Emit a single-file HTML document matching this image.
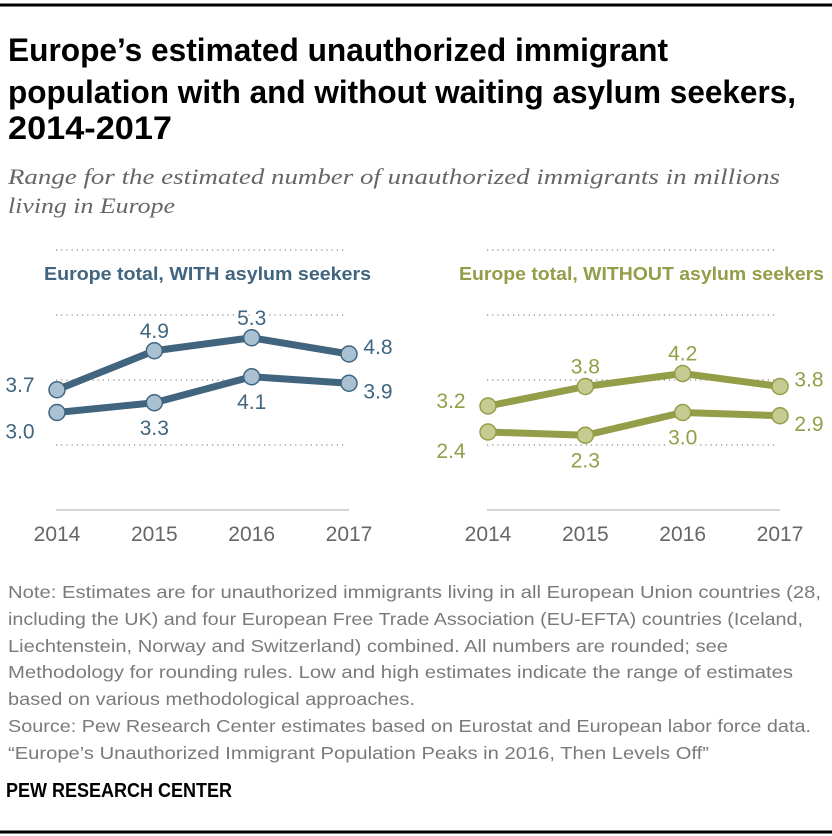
<!DOCTYPE html>
<html><head><meta charset="utf-8"><style>
html,body{margin:0;padding:0;background:#fff;}
svg{display:block;}
</style></head><body>
<svg id="chart" width="832" height="836" viewBox="0 0 832 836" xmlns="http://www.w3.org/2000/svg">
<line x1="0" y1="5" x2="832" y2="5" stroke="#000" stroke-width="3"/>
<g font-family="'Liberation Sans Narrow','Liberation Sans',sans-serif" font-weight="bold" font-size="32" fill="#000">
<text x="8" y="61" textLength="660" lengthAdjust="spacingAndGlyphs">Europe’s estimated unauthorized immigrant</text>
<text x="8" y="103" textLength="788" lengthAdjust="spacingAndGlyphs">population with and without waiting asylum seekers,</text>
<text x="8" y="139" textLength="164" lengthAdjust="spacingAndGlyphs">2014-2017</text>
</g>
<g font-family="'Liberation Serif',serif" font-style="italic" font-size="22" fill="#666">
<text x="8" y="184" textLength="772" lengthAdjust="spacingAndGlyphs">Range for the estimated number of unauthorized immigrants in millions</text>
<text x="8" y="213" textLength="167" lengthAdjust="spacingAndGlyphs">living in Europe</text>
</g>
<g id="plots"></g>
<g font-family="'Liberation Sans',sans-serif" font-size="17.5" fill="#7a7a7a">
<text x="8" y="598" textLength="813" lengthAdjust="spacingAndGlyphs">Note: Estimates are for unauthorized immigrants living in all European Union countries (28,</text>
<text x="8" y="625" textLength="795" lengthAdjust="spacingAndGlyphs">including the UK) and four European Free Trade Association (EU-EFTA) countries (Iceland,</text>
<text x="8" y="652" textLength="720" lengthAdjust="spacingAndGlyphs">Liechtenstein, Norway and Switzerland) combined. All numbers are rounded; see</text>
<text x="8" y="678" textLength="785" lengthAdjust="spacingAndGlyphs">Methodology for rounding rules. Low and high estimates indicate the range of estimates</text>
<text x="8" y="705" textLength="407" lengthAdjust="spacingAndGlyphs">based on various methodological approaches.</text>
<text x="8" y="732" textLength="803" lengthAdjust="spacingAndGlyphs">Source: Pew Research Center estimates based on Eurostat and European labor force data.</text>
<text x="8" y="759" textLength="701" lengthAdjust="spacingAndGlyphs">“Europe’s Unauthorized Immigrant Population Peaks in 2016, Then Levels Off”</text>
</g>
<text x="6" y="797" font-family="'Liberation Sans Narrow','Liberation Sans',sans-serif" font-weight="bold" font-size="20" fill="#000" textLength="226" lengthAdjust="spacingAndGlyphs">PEW RESEARCH CENTER</text>
<line x1="0" y1="832" x2="832" y2="832" stroke="#000" stroke-width="3"/>
</svg>
<script>
const years = ["2014","2015","2016","2017"];
const gridValues = [2, 4, 6, 8];
const withHigh = [3.7, 4.9, 5.3, 4.8];
const withLow = [3.0, 3.3, 4.1, 3.9];
const withoutHigh = [3.2, 3.8, 4.2, 3.8];
const withoutLow = [2.4, 2.3, 3.0, 2.9];
const withHighLabels = ["3.7","4.9","5.3","4.8"];
const withLowLabels = ["3.0","3.3","4.1","3.9"];
const withoutHighLabels = ["3.2","3.8","4.2","3.8"];
const withoutLowLabels = ["2.4","2.3","3.0","2.9"];

const NS = "http://www.w3.org/2000/svg";
const root = document.getElementById("plots");
function yScale(v){ return 510 - 32.5 * v; }
function mk(tag, attrs, parent){
  const e = document.createElementNS(NS, tag);
  for (const k in attrs) e.setAttribute(k, attrs[k]);
  parent.appendChild(e);
  return e;
}
const panels = [
  {x0:57, x1:349, gx0:56, gx1:345, color:"#41657f", fill:"#a9c1d3",
   title:"Europe total, WITH asylum seekers", tx:44, tw:327,
   high:withHigh, low:withLow, hl:withHighLabels, ll:withLowLabels, name:"with-asylum"},
  {x0:488, x1:780, gx0:487, gx1:777, color:"#949d48", fill:"#c6cc91",
   title:"Europe total, WITHOUT asylum seekers", tx:459, tw:365,
   high:withoutHigh, low:withoutLow, hl:withoutHighLabels, ll:withoutLowLabels, name:"without-asylum"}
];
const highPlace = ["left","above","above","right"];
panels.forEach(p => {
  const g = mk("g", {}, root);
  
  
  const xs = i => p.x0 + (p.x1 - p.x0) * i / (years.length - 1);
  gridValues.forEach(v => {
    const l = mk("line", {x1:p.gx0, x2:p.gx1, y1:yScale(v), y2:yScale(v), stroke:"#888", "stroke-width":1.2, "stroke-dasharray":"1.2 4"}, g);
    
    
  });
  const ax = mk("line", {x1:p.gx0, x2:p.x1, y1:510, y2:510, stroke:"#aaa", "stroke-width":1}, g);
  
  
  years.forEach((yr, i) => {
    const t = mk("text", {x:xs(i), y:541, "text-anchor":"middle", "font-family":"'Liberation Sans',sans-serif", "font-size":21, fill:"#666"}, g);
    t.textContent = yr;
    
    
  });
  const tt = mk("text", {x:p.tx, y:280, "font-family":"'Liberation Sans',sans-serif", "font-weight":"bold", "font-size":18, fill:p.color, textLength:p.tw, lengthAdjust:"spacingAndGlyphs"}, g);
  tt.textContent = p.title;
  
  
  [[p.high, p.hl, "high"], [p.low, p.ll, "low"]].forEach(([vals, labs, kind]) => {
    const pts = vals.map((v, i) => xs(i) + "," + yScale(v)).join(" ");
    const pl = mk("polyline", {points:pts, fill:"none", stroke:p.color, "stroke-width":7, "stroke-linejoin":"round"}, g);
    
    
    vals.forEach((v, i) => {
      const c = mk("circle", {cx:xs(i), cy:yScale(v), r:8, fill:p.fill, stroke:p.color, "stroke-width":1.5}, g);
      
      
      let place = kind === "high" ? highPlace[i] : (i === 0 ? "left" : i === 3 ? "right" : "below");
      let tx = xs(i), ty = yScale(v);
      if (place === "left") { tx -= 37; ty += kind === "high" ? -6 : 18; }
      else if (place === "right") { tx += 29; ty += kind === "high" ? -8 : 7; }
      else if (place === "above") { ty -= 21; }
      else { ty += 24; }
      const t = mk("text", {x:tx, y:ty + 8, "text-anchor":"middle", "font-family":"'Liberation Sans',sans-serif", "font-size":21, fill:p.color, stroke:"#fff", "stroke-width":4, "paint-order":"stroke"}, g);
      t.textContent = labs[i];
      
      
    });
  });
});
</script>
</body></html>
